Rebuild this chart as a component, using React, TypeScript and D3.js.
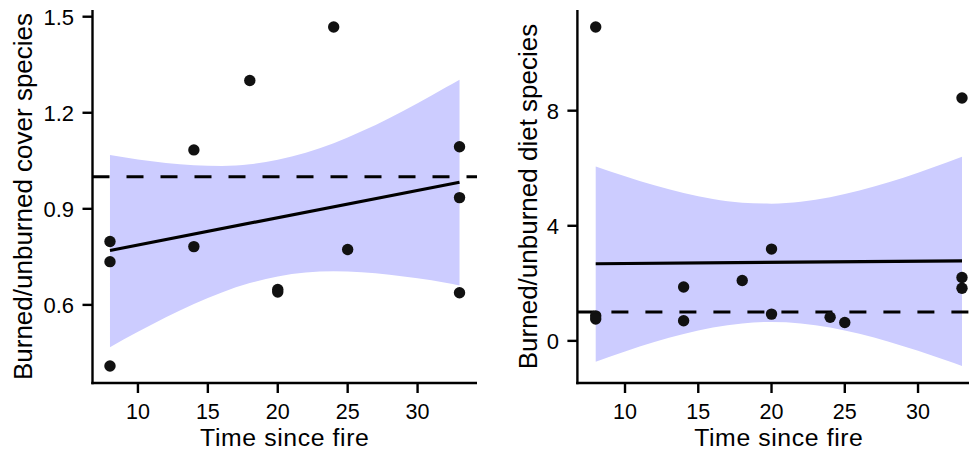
import React from "react";
import * as d3 from "d3";

// ---- Data ----
const timeSinceFire = [8, 8, 8, 14, 14, 18, 20, 20, 24, 25, 33, 33, 33];
const coverRatio = [0.798, 0.735, 0.409, 1.084, 0.782, 1.301, 0.648, 0.64, 1.468, 0.773, 1.094, 0.935, 0.638];
const dietRatio = [10.91, 0.87, 0.76, 1.87, 0.7, 2.1, 3.19, 0.93, 0.82, 0.64, 8.44, 2.2, 1.83];

// fitted line end points
const fitX = [8, 33];
const coverFit = [0.77, 0.983];
const dietFit = [2.68, 2.78];

// confidence band
const bandX = [8, 10, 12, 14, 16, 18, 20, 22, 24, 26, 28, 30, 32, 33];
const coverLower = [0.468, 0.516, 0.5615, 0.603, 0.639, 0.668, 0.689, 0.701, 0.705, 0.702, 0.694, 0.683, 0.669, 0.6605];
const coverUpper = [1.068, 1.054, 1.0433, 1.036, 1.034, 1.039, 1.053, 1.075, 1.105, 1.142, 1.184, 1.23, 1.279, 1.3035];
const dietLower = [-0.726, -0.368, -0.041, 0.241, 0.464, 0.608, 0.658, 0.608, 0.464, 0.247, -0.029, -0.346, -0.693, -0.875];
const dietUpper = [6.062, 5.72, 5.407, 5.139, 4.932, 4.802, 4.768, 4.832, 4.99, 5.223, 5.513, 5.846, 6.207, 6.397];

const xTicks = [10, 15, 20, 25, 30];
const coverTicks = [0.6, 0.9, 1.2, 1.5];
const dietTicks = [0, 4, 8];
const refValue = 1;

const xTitle = "Time since fire";
const coverTitle = "Burned/unburned cover species";
const dietTitle = "Burned/unburned diet species";

const FONT = "'Liberation Sans', Arial, Helvetica, sans-serif";

function expand(lo: number, hi: number, f = 0.05): [number, number] {
  const r = hi - lo;
  return [lo - r * f, hi + r * f];
}

type PanelProps = {
  left: number;
  right: number;
  top: number;
  bottom: number;
  ys: number[];
  fit: number[];
  lower: number[];
  upper: number[];
  yTicks: number[];
  yFormat: (v: number) => string;
  yTitle: string;
  yTitleX: number;
};

function Panel(p: PanelProps) {
  const xDom = expand(d3.min(timeSinceFire)!, d3.max(timeSinceFire)!);
  const yMin = Math.min(d3.min(p.ys)!, d3.min(p.lower)!);
  const yMax = Math.max(d3.max(p.ys)!, d3.max(p.upper)!);
  const x = d3.scaleLinear().domain(xDom).range([p.left, p.right]);
  const y = d3.scaleLinear().domain(expand(yMin, yMax)).range([p.bottom, p.top]);

  const band = d3
    .area<number>()
    .x((_, i) => x(bandX[i]))
    .y0((_, i) => y(p.lower[i]))
    .y1((_, i) => y(p.upper[i]))
    .curve(d3.curveMonotoneX);
  const line = d3
    .line<number>()
    .x((_, i) => x(fitX[i]))
    .y((d) => y(d));

  const axisW = 2.4;
  const tickLen = 10;
  const midY = (p.top + p.bottom) / 2;
  const midX = (p.left + p.right) / 2;

  return (
    <g>
      <path d={band(p.lower) || ""} fill="#ccccff" stroke="none" />
      <line
        x1={p.left}
        x2={p.right}
        y1={y(refValue)}
        y2={y(refValue)}
        stroke="#000"
        strokeWidth={3}
        strokeDasharray="17 17"
      />
      <path d={line(p.fit) || ""} fill="none" stroke="#000" strokeWidth={3.2} />
      {timeSinceFire.map((t, i) => (
        <circle key={i} cx={x(t)} cy={y(p.ys[i])} r={5.7} fill="#111" />
      ))}
      {/* axes */}
      <line x1={p.left} x2={p.left} y1={p.top} y2={p.bottom + axisW / 2} stroke="#000" strokeWidth={axisW} />
      <line x1={p.left - axisW / 2} x2={p.right} y1={p.bottom} y2={p.bottom} stroke="#000" strokeWidth={axisW} />
      {p.yTicks.map((v) => (
        <g key={"y" + v}>
          <line x1={p.left - tickLen} x2={p.left} y1={y(v)} y2={y(v)} stroke="#000" strokeWidth={axisW} />
          <text x={p.left - 18.5} y={y(v) + 8.5} textAnchor="end" fontSize={22} fontFamily={FONT} fill="#000">
            {p.yFormat(v)}
          </text>
        </g>
      ))}
      {xTicks.map((v) => (
        <g key={"x" + v}>
          <line x1={x(v)} x2={x(v)} y1={p.bottom} y2={p.bottom + tickLen} stroke="#000" strokeWidth={axisW} />
          <text x={x(v)} y={418.5} textAnchor="middle" fontSize={21.5} fontFamily={FONT} fill="#000">
            {v}
          </text>
        </g>
      ))}
      <text
        x={midX}
        y={445.6}
        textAnchor="middle"
        fontSize={24.8}
        letterSpacing={0.6}
        fontFamily={FONT}
        fill="#000"
      >
        {xTitle}
      </text>
      <text
        transform={`translate(${p.yTitleX},${midY}) rotate(-90)`}
        textAnchor="middle"
        fontSize={26}
        fontFamily={FONT}
        fill="#000"
      >
        {p.yTitle}
      </text>
    </g>
  );
}

export default function App() {
  const f1 = d3.format(".1f");
  const f0 = d3.format("d");
  return (
    <svg
      width={969}
      height={451}
      style={{ position: "absolute", left: 0, top: 0, background: "#fff" }}
    >
      <rect x={0} y={0} width={969} height={451} fill="#fff" />
      <Panel
        left={92.5}
        right={477}
        top={10}
        bottom={383}
        ys={coverRatio}
        fit={coverFit}
        lower={coverLower}
        upper={coverUpper}
        yTicks={coverTicks}
        yFormat={(v) => f1(v)}
        yTitle={coverTitle}
        yTitleX={32}
      />
      <Panel
        left={577.4}
        right={980.3}
        top={10}
        bottom={383}
        ys={dietRatio}
        fit={dietFit}
        lower={dietLower}
        upper={dietUpper}
        yTicks={dietTicks}
        yFormat={(v) => f0(v)}
        yTitle={dietTitle}
        yTitleX={537}
      />
    </svg>
  );
}
